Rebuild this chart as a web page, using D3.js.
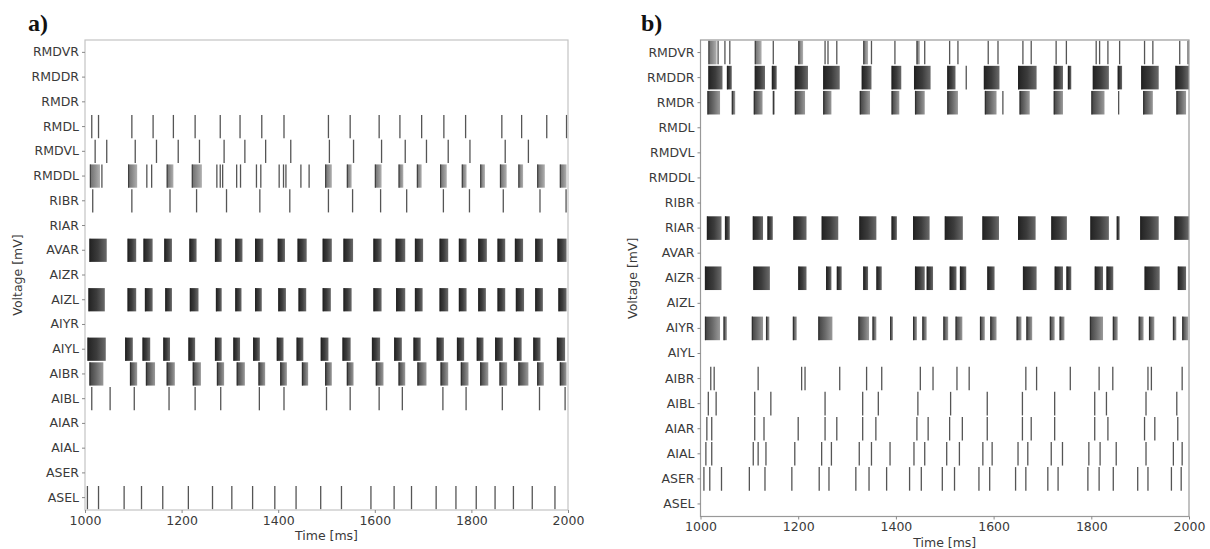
<!DOCTYPE html>
<html>
<head>
<meta charset="utf-8">
<script src="https://cdn.jsdelivr.net/npm/d3@7"></script>
<style>
body { margin: 0; background: #fff; }
.axis text { font-family: "DejaVu Sans", sans-serif; font-size: 12.5px; fill: #3a3a3a; }
.axis line { stroke: #888; }
.axis path { display: none; }
</style>
</head>
<body>
<svg id="chart" width="1210" height="549"></svg>
<script>
// neurons, top row first
var NEURONS = ["RMDVR","RMDDR","RMDR","RMDL","RMDVL","RMDDL","RIBR","RIAR","AVAR","AIZR","AIZL","AIYR","AIYL","AIBR","AIBL","AIAR","AIAL","ASER","ASEL"];
var TIME_RANGE = [1000, 2000];
var TIME_TICKS = [1000, 1200, 1400, 1600, 1800, 2000];

// ---- panel a : single spikes (ms) and bursts ([start, end] ms)
var A_RMDL_SPIKES = [1014,1028,1097,1141,1183,1228,1280,1321,1366,1412,1504,1549,1609,1652,1697,1743,1788,1863,1904,1956,1997];
var A_RMDVL_SPIKES = [1021,1045,1104,1148,1193,1237,1288,1331,1374,1426,1506,1556,1614,1663,1707,1752,1797,1870,1918];
var A_RMDDL_SPIKES = [1035,1128,1138,1273,1280,1285,1314,1322,1355,1364,1402,1411,1416,1447,1464];
var A_RMDDL_BURSTS = [[1010,1031],[1089,1108],[1169,1183],[1221,1242],[1497,1511],[1542,1552],[1600,1614],[1649,1659],[1687,1697],[1735,1749],[1780,1790],[1818,1828],[1859,1873],[1897,1907],[1936,1952],[1983,1997]];
var A_RIBR_SPIKES = [1016,1097,1176,1231,1293,1362,1424,1504,1554,1612,1666,1742,1796,1866,1942,1996];
var A_AVAR_BURSTS = [[1009,1045],[1088,1106],[1121,1140],[1164,1180],[1216,1231],[1269,1283],[1311,1326],[1352,1369],[1399,1414],[1440,1459],[1492,1511],[1535,1555],[1597,1614],[1643,1663],[1683,1700],[1734,1752],[1774,1790],[1814,1832],[1854,1870],[1890,1907],[1932,1948],[1978,1997]];
var A_AIZL_BURSTS = [[1007,1041],[1088,1106],[1124,1140],[1166,1180],[1217,1235],[1271,1283],[1311,1324],[1352,1366],[1400,1416],[1442,1458],[1492,1509],[1535,1552],[1597,1614],[1644,1663],[1683,1699],[1734,1752],[1774,1790],[1814,1830],[1854,1870],[1892,1909],[1932,1948],[1980,1997]];
var A_AIYL_BURSTS = [[1005,1043],[1083,1099],[1119,1135],[1162,1176],[1214,1228],[1269,1283],[1307,1321],[1348,1362],[1397,1411],[1438,1452],[1488,1504],[1533,1550],[1594,1611],[1640,1656],[1680,1695],[1728,1743],[1770,1785],[1811,1825],[1849,1865],[1888,1904],[1928,1943],[1977,1994]];
var A_AIBR_BURSTS = [[1009,1038],[1093,1108],[1126,1145],[1169,1186],[1223,1240],[1273,1288],[1314,1331],[1359,1373],[1404,1418],[1449,1462],[1497,1511],[1542,1556],[1602,1618],[1649,1663],[1688,1707],[1736,1752],[1778,1794],[1818,1835],[1858,1874],[1897,1918],[1936,1950],[1983,1997]];
var A_AIBL_SPIKES = [1014,1052,1102,1174,1228,1281,1361,1412,1500,1549,1609,1657,1741,1789,1864,1941,1994];
var A_ASEL_SPIKES = [1005,1028,1081,1117,1161,1214,1264,1304,1347,1393,1437,1488,1531,1592,1640,1676,1727,1768,1810,1849,1887,1926,1973];

// ---- panel b
var B_RMDVR_SPIKES = [1036,1050,1060,1149,1255,1261,1279,1350,1398,1459,1510,1527,1589,1609,1660,1677,1728,1749,1810,1817,1834,1858,1909,1926,1981,1998];
var B_RMDVR_BURSTS = [[1016,1033],[1111,1125],[1200,1210],[1333,1343],[1442,1449]];
var B_RMDDR_SPIKES = [1544];
var B_RMDDR_BURSTS = [[1016,1045],[1054,1064],[1111,1132],[1146,1156],[1193,1220],[1251,1285],[1330,1350],[1391,1411],[1437,1471],[1505,1522],[1580,1612],[1650,1688],[1723,1742],[1752,1759],[1803,1836],[1854,1863],[1902,1938],[1972,2000]];
var B_RMDR_SPIKES = [1619,1856];
var B_RMDR_BURSTS = [[1014,1040],[1064,1071],[1109,1127],[1148,1152],[1193,1214],[1251,1268],[1326,1347],[1391,1407],[1439,1459],[1505,1527],[1582,1606],[1653,1674],[1723,1742],[1800,1827],[1906,1926],[1974,1994]];
var B_RIAR_BURSTS = [[1013,1043],[1050,1060],[1107,1128],[1137,1148],[1190,1217],[1248,1282],[1325,1360],[1391,1402],[1435,1469],[1500,1537],[1577,1611],[1650,1686],[1718,1750],[1798,1836],[1852,1858],[1900,1938],[1970,2000]];
var B_AIZR_BURSTS = [[1009,1043],[1108,1142],[1200,1217],[1257,1268],[1279,1289],[1333,1343],[1360,1371],[1439,1459],[1463,1476],[1510,1524],[1531,1544],[1587,1602],[1660,1688],[1725,1742],[1749,1759],[1807,1824],[1831,1845],[1909,1940],[1977,1994]];
var B_AIYR_BURSTS = [[1009,1040],[1047,1054],[1105,1128],[1134,1141],[1189,1197],[1241,1270],[1323,1345],[1352,1360],[1388,1394],[1435,1443],[1454,1463],[1497,1507],[1522,1536],[1572,1582],[1593,1606],[1647,1657],[1667,1679],[1715,1725],[1735,1745],[1797,1824],[1844,1854],[1897,1907],[1918,1929],[1967,1974],[1986,1998]];
var B_AIBR_SPIKES = [1021,1028,1118,1207,1214,1285,1340,1371,1450,1476,1525,1550,1666,1688,1757,1816,1844,1916,1923,1986];
var B_AIBL_SPIKES = [1016,1032,1111,1144,1255,1332,1364,1445,1512,1587,1659,1725,1807,1831,1912,1975];
var B_AIAR_SPIKES = [1013,1023,1111,1130,1200,1255,1279,1332,1359,1443,1466,1510,1536,1587,1659,1677,1725,1807,1834,1909,1930,1977];
var B_AIAL_SPIKES = [1011,1023,1108,1118,1134,1193,1248,1268,1325,1350,1388,1437,1459,1504,1530,1578,1597,1650,1670,1718,1741,1795,1818,1851,1912,1968,1986];
var B_ASER_SPIKES = [1007,1019,1043,1100,1132,1187,1243,1263,1318,1345,1381,1428,1452,1495,1520,1570,1592,1645,1666,1711,1732,1793,1816,1845,1895,1916,1964,1984];

var svg = d3.select("#chart");

// burst shading
var defs = svg.append("defs");
var GRADS = {
  dark:  ["#222", "#3c3c3c", "#6a6a6a"],
  mid:   ["#404040", "#6a6a6a", "#9a9a9a"],
  light: ["#6c6c6c", "#8c8c8c", "#b0b0b0"]
};
Object.keys(GRADS).forEach(function(k) {
  var lg = defs.append("linearGradient").attr("id", "grad-" + k)
    .attr("x1", "0").attr("x2", "1").attr("y1", "0").attr("y2", "0");
  lg.append("stop").attr("offset", "0%").attr("stop-color", GRADS[k][0]);
  lg.append("stop").attr("offset", "50%").attr("stop-color", GRADS[k][1]);
  lg.append("stop").attr("offset", "100%").attr("stop-color", GRADS[k][2]);
});

function drawPanel(p) {
  var x = d3.scaleLinear().domain(TIME_RANGE).range([p.left, p.right]);
  var y = d3.scaleBand().domain(NEURONS).range([p.top, p.bottom]);
  var inset = y.bandwidth() * 0.03;

  var g = svg.append("g");
  defs.append("clipPath").attr("id", "clip-" + p.id)
    .append("rect").attr("x", p.left).attr("y", p.top)
    .attr("width", p.right - p.left).attr("height", p.bottom - p.top);
  var plot = g.append("g").attr("clip-path", "url(#clip-" + p.id + ")");

  Object.keys(p.bursts).forEach(function(name) {
    var tone = p.tones[name] || "mid";
    plot.selectAll(null).data(p.bursts[name]).enter().append("rect")
      .attr("x", function(d) { return x(d[0]); })
      .attr("width", function(d) { return Math.max(1.6, x(d[1]) - x(d[0])); })
      .attr("y", y(name) + inset)
      .attr("height", y.bandwidth() - 2 * inset)
      .attr("fill", "url(#grad-" + tone + ")");
    // first spike of each burst is the darkest stroke
    plot.selectAll(null).data(p.bursts[name]).enter().append("line")
      .attr("x1", function(d) { return x(d[0]) + 0.6; })
      .attr("x2", function(d) { return x(d[0]) + 0.6; })
      .attr("y1", y(name) + inset)
      .attr("y2", y(name) + y.bandwidth() - inset)
      .attr("stroke", "#222").attr("stroke-width", 1.2).attr("opacity", 0.6);
  });

  Object.keys(p.spikes).forEach(function(name) {
    plot.selectAll(null).data(p.spikes[name]).enter().append("line")
      .attr("x1", function(d) { return x(d); })
      .attr("x2", function(d) { return x(d); })
      .attr("y1", y(name) + inset)
      .attr("y2", y(name) + y.bandwidth() - inset)
      .attr("stroke", p.spikeColor).attr("stroke-width", 1.3);
  });

  // frame
  g.append("rect")
    .attr("x", p.left).attr("y", p.top)
    .attr("width", p.right - p.left).attr("height", p.bottom - p.top)
    .attr("fill", "none").attr("stroke", p.frame).attr("stroke-width", 1.2);

  g.append("g").attr("class", "axis")
    .attr("transform", "translate(" + p.left + ",0)")
    .call(d3.axisLeft(y).tickSize(3).tickPadding(3));

  g.append("g").attr("class", "axis")
    .attr("transform", "translate(0," + p.bottom + ")")
    .call(d3.axisBottom(x).tickValues(TIME_TICKS).tickSize(3).tickPadding(3).tickFormat(d3.format("d")));

  g.append("text")
    .attr("x", (p.left + p.right) / 2).attr("y", p.bottom + 30)
    .attr("text-anchor", "middle")
    .style("font-family", "DejaVu Sans, sans-serif").style("font-size", "12.5px").style("fill", "#3a3a3a")
    .text("Time [ms]");

  g.append("text")
    .attr("transform", "translate(" + p.ylabelX + "," + (p.top + p.bottom) / 2 + ") rotate(-90)")
    .attr("text-anchor", "middle")
    .style("font-family", "DejaVu Sans, sans-serif").style("font-size", "12.5px").style("fill", "#3a3a3a")
    .text("Voltage [mV]");

  g.append("text")
    .attr("x", p.tagX).attr("y", 31)
    .style("font-family", "Liberation Serif, serif").style("font-size", "24px")
    .style("font-weight", "bold").style("fill", "#111")
    .text(p.tag);
}

drawPanel({
  id: "a", tag: "a)", tagX: 28, ylabelX: 22,
  left: 85, right: 568, top: 40, bottom: 510,
  frame: "#c4c4c4", spikeColor: "#555",
  spikes: { RMDL: A_RMDL_SPIKES, RMDVL: A_RMDVL_SPIKES, RMDDL: A_RMDDL_SPIKES, RIBR: A_RIBR_SPIKES, AIBL: A_AIBL_SPIKES, ASEL: A_ASEL_SPIKES },
  bursts: { RMDDL: A_RMDDL_BURSTS, AVAR: A_AVAR_BURSTS, AIZL: A_AIZL_BURSTS, AIYL: A_AIYL_BURSTS, AIBR: A_AIBR_BURSTS },
  tones: { RMDDL: "light", AVAR: "dark", AIZL: "dark", AIYL: "dark", AIBR: "mid" }
});

drawPanel({
  id: "b", tag: "b)", tagX: 641, ylabelX: 637,
  left: 700.5, right: 1189, top: 40, bottom: 516.5,
  frame: "#999", spikeColor: "#555",
  spikes: { RMDVR: B_RMDVR_SPIKES, RMDDR: B_RMDDR_SPIKES, RMDR: B_RMDR_SPIKES, AIBR: B_AIBR_SPIKES, AIBL: B_AIBL_SPIKES, AIAR: B_AIAR_SPIKES, AIAL: B_AIAL_SPIKES, ASER: B_ASER_SPIKES },
  bursts: { RMDVR: B_RMDVR_BURSTS, RMDDR: B_RMDDR_BURSTS, RMDR: B_RMDR_BURSTS, RIAR: B_RIAR_BURSTS, AIZR: B_AIZR_BURSTS, AIYR: B_AIYR_BURSTS },
  tones: { RMDVR: "light", RMDDR: "dark", RMDR: "mid", RIAR: "dark", AIZR: "dark", AIYR: "mid" }
});
</script>
</body>
</html>
